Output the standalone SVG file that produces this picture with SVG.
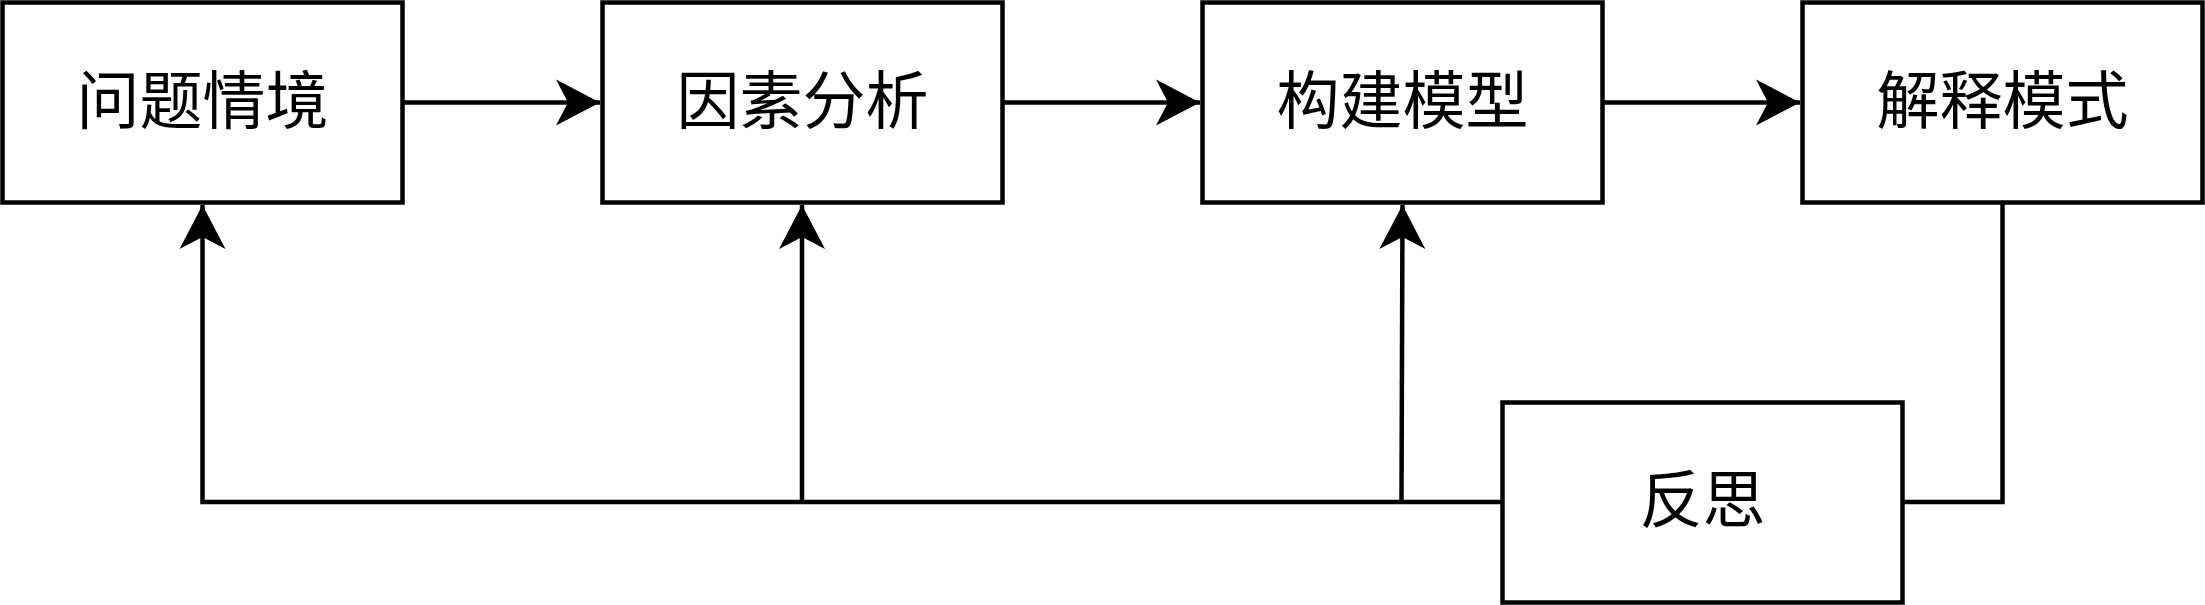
<svg xmlns="http://www.w3.org/2000/svg" width="2205" height="605" viewBox="0 0 2205 605">
<style>
.box{fill:#fff;stroke:#000;stroke-width:4.5}
.lbl{font-family:"Noto Sans CJK SC","Noto Sans",sans-serif;font-size:63px;fill:#000;text-anchor:middle;dominant-baseline:central}
.edge{fill:none;stroke:#000;stroke-width:4.5}
</style>
<defs>
<marker id="arr" markerUnits="userSpaceOnUse" markerWidth="50" markerHeight="50" viewBox="-46 -25 50 50" refX="0" refY="0" orient="auto">
<path d="M0,0 L-44,-23 L-32,0 L-44,23 Z" fill="#000"/>
</marker>
</defs>
<rect width="2205" height="605" fill="#fff"/>
<g id="connectors">
<path class="edge" d="M402.5,102.5 H600" marker-end="url(#arr)"/>
<path class="edge" d="M1002.5,102.5 H1200" marker-end="url(#arr)"/>
<path class="edge" d="M1602.5,102.5 H1800" marker-end="url(#arr)"/>
<path class="edge" d="M1903,502 H2002.5 V202.5"/>
<path class="edge" d="M1502,502 H202.5 V205" marker-end="url(#arr)"/>
<path class="edge" d="M802,502 V205" marker-end="url(#arr)"/>
<path class="edge" d="M1401.5,502 L1402.5,205" marker-end="url(#arr)"/>
</g>
<g id="n1"><rect class="box" x="2.5" y="2.5" width="400" height="200"/><text class="lbl" x="202.5" y="95">问题情境</text></g>
<g id="n2"><rect class="box" x="602.5" y="2.5" width="400" height="200"/><text class="lbl" x="802.5" y="95">因素分析</text></g>
<g id="n3"><rect class="box" x="1202.5" y="2.5" width="400" height="200"/><text class="lbl" x="1402.5" y="95">构建模型</text></g>
<g id="n4"><rect class="box" x="1802.5" y="2.5" width="400" height="200"/><text class="lbl" x="2002.5" y="95">解释模式</text></g>
<g id="n5"><rect class="box" x="1502.5" y="402.5" width="400" height="200"/><text class="lbl" x="1702.5" y="494">反思</text></g>
</svg>
